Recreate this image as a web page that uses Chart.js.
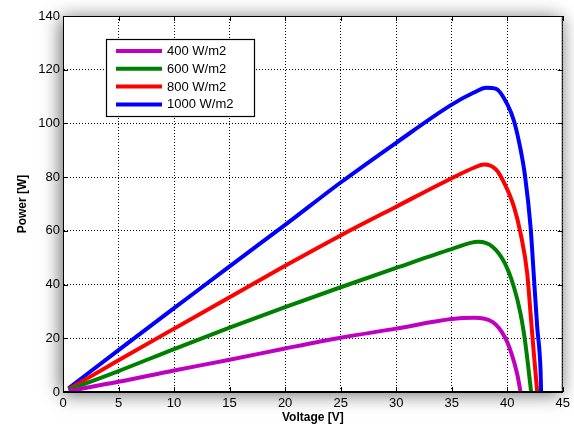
<!DOCTYPE html>
<html>
<head>
<meta charset="utf-8">
<script src="https://cdn.jsdelivr.net/npm/chart.js@4/dist/chart.umd.min.js"></script>
<style>
  html, body { margin: 0; padding: 0; background: #ffffff; }
  #c { display: block; }
</style>
</head>
<body>
<canvas id="c" width="574" height="428"></canvas>
<script>
// ---- Data ----
const seriesLabels = ['400 W/m2', '600 W/m2', '800 W/m2', '1000 W/m2'];
const seriesColors = ['#c000c0', '#008000', '#ff0000', '#0000ff'];

const v400  = [0.5, 5, 10, 15, 20, 25, 30, 35, 37, 38.7, 39.8, 40.4, 40.9, 41.2];
const p400  = [0.4, 3.8, 8.0, 12.0, 16.2, 20.2, 23.6, 27.2, 27.6, 26.0, 20.3, 14.1, 6.6, 0];

const v600  = [0.5, 5, 10, 15, 20, 25, 30, 35, 37.4, 38.7, 39.8, 40.6, 41.2, 41.6, 41.9, 42.15];
const p600  = [0.8, 7.8, 16.0, 24.0, 31.6, 39.0, 46.2, 53.2, 55.9, 54.0, 47.8, 39.1, 29.1, 19.1, 9.1, 0];

const v800  = [0.5, 5, 10, 15, 20, 25, 30, 35, 37, 37.9, 39.0, 39.8, 40.6, 41.2, 41.8, 42.1, 42.4, 42.7];
const p800  = [1.0, 11.8, 23.6, 35.3, 47.0, 58.3, 69.0, 79.6, 83.5, 84.7, 82.8, 77.2, 69.0, 59.1, 44.1, 29.2, 14.1, 0];

const v1000 = [0.5, 5, 10, 15, 20, 25, 30, 35, 37, 38.1, 39.0, 40.0, 40.6, 41.2, 41.6, 42.1, 42.4, 42.7, 43.0, 43.05];
const p1000 = [1.4, 15.6, 31.2, 46.8, 62.2, 78.0, 92.8, 107.0, 111.5, 113.3, 112.9, 107.2, 101.0, 90.3, 80.5, 61.5, 42.8, 24.1, 8.0, 0];

const xTicks = [0, 5, 10, 15, 20, 25, 30, 35, 40, 45];
const yTicks = [0, 20, 40, 60, 80, 100, 120, 140];

const xTitle = 'Voltage [V]';
const yTitle = 'Power [W]';

// ---- Build datasets ----
function pts(vs, ps) { return vs.map((v, i) => ({ x: v, y: ps[i] })); }
const allV = [v400, v600, v800, v1000];
const allP = [p400, p600, p800, p1000];
const datasets = seriesLabels.map((lab, i) => ({
  label: lab,
  data: pts(allV[i], allP[i]),
  borderColor: seriesColors[i],
  backgroundColor: seriesColors[i],
  borderWidth: 4,
  pointRadius: 0,
  fill: false,
  cubicInterpolationMode: 'monotone'
}));

const FONT = 'Arial, "Liberation Sans", Helvetica, sans-serif';

// Background with blurred shadow around the axes box
const shadowPlugin = {
  id: 'shadowBox',
  beforeDraw(chart) {
    const { ctx, chartArea: a } = chart;
    ctx.save();
    ctx.fillStyle = '#ffffff';
    ctx.fillRect(0, 0, chart.width, chart.height);
    ctx.shadowColor = 'rgba(0,0,0,0.6)';
    ctx.shadowBlur = 18;
    ctx.shadowOffsetX = -2;
    ctx.shadowOffsetY = 2;
    ctx.fillStyle = '#ffffff';
    ctx.fillRect(a.left, a.top, a.right - a.left, a.bottom - a.top);
    ctx.restore();
  }
};

// Box border, inward tick marks, and legend
const framePlugin = {
  id: 'frame',
  afterDraw(chart) {
    const { ctx, chartArea: a, scales } = chart;
    ctx.save();
    ctx.strokeStyle = '#000';
    ctx.lineWidth = 1;
    ctx.setLineDash([]);
    ctx.strokeRect(a.left + 0.5, a.top + 0.5, a.right - a.left - 1, a.bottom - a.top - 1);
    const tl = 5;
    ctx.beginPath();
    xTicks.forEach(t => {
      const x = Math.round(scales.x.getPixelForValue(t)) + 0.5;
      ctx.moveTo(x, a.bottom); ctx.lineTo(x, a.bottom - tl);
      ctx.moveTo(x, a.top); ctx.lineTo(x, a.top + tl);
    });
    yTicks.forEach(t => {
      const y = Math.round(scales.y.getPixelForValue(t)) + 0.5;
      ctx.moveTo(a.left, y); ctx.lineTo(a.left + tl, y);
      ctx.moveTo(a.right, y); ctx.lineTo(a.right - tl, y);
    });
    ctx.stroke();

    // Legend box inside the plot area
    const lx = a.left + 43, ly = a.top + 23, lw = 148, lh = 77;
    ctx.fillStyle = '#ffffff';
    ctx.fillRect(lx, ly, lw, lh);
    ctx.strokeStyle = '#000';
    ctx.lineWidth = 1.2;
    ctx.strokeRect(lx + 0.5, ly + 0.5, lw, lh);
    ctx.font = '13px ' + FONT;
    ctx.textBaseline = 'middle';
    ctx.textAlign = 'left';
    chart.data.datasets.forEach((ds, i) => {
      const y = ly + 12 + i * 17.8;
      ctx.strokeStyle = ds.borderColor;
      ctx.lineWidth = 4;
      ctx.beginPath();
      ctx.moveTo(lx + 10, y);
      ctx.lineTo(lx + 56, y);
      ctx.stroke();
      ctx.fillStyle = '#000';
      ctx.fillText(ds.label, lx + 61, y + 0.5);
    });
    ctx.restore();
  }
};

new Chart(document.getElementById('c'), {
  type: 'line',
  data: { datasets },
  options: {
    responsive: false,
    devicePixelRatio: 1,
    animation: false,
    layout: { padding: { left: 0, top: 16, right: 11, bottom: 0 } },
    plugins: { legend: { display: false }, tooltip: { enabled: false } },
    scales: {
      x: {
        type: 'linear',
        min: 0, max: 45,
        afterBuildTicks(scale) { scale.ticks = xTicks.map(v => ({ value: v })); },
        afterFit(scale) { scale.height = 36; },
        ticks: { color: '#000', font: { size: 13, family: FONT }, padding: 4, maxRotation: 0, autoSkip: false },
        grid: { color: '#000', lineWidth: 1, drawTicks: false },
        border: { display: true, color: '#000', width: 1, dash: [1, 2] },
        title: { display: true, text: xTitle, color: '#000', font: { size: 12, weight: 'bold', family: FONT }, padding: { top: 0, bottom: 3 } }
      },
      y: {
        type: 'linear',
        min: 0, max: 140,
        afterBuildTicks(scale) { scale.ticks = yTicks.map(v => ({ value: v })); },
        afterFit(scale) { scale.width = 63; },
        ticks: { color: '#000', font: { size: 13, family: FONT }, padding: 3, autoSkip: false },
        grid: { color: '#000', lineWidth: 1, drawTicks: false },
        border: { display: true, color: '#000', width: 1, dash: [1, 2] },
        title: { display: true, text: yTitle, color: '#000', font: { size: 12, weight: 'bold', family: FONT }, padding: { top: 15, bottom: 0 } }
      }
    }
  },
  plugins: [shadowPlugin, framePlugin]
});
</script>
</body>
</html>
